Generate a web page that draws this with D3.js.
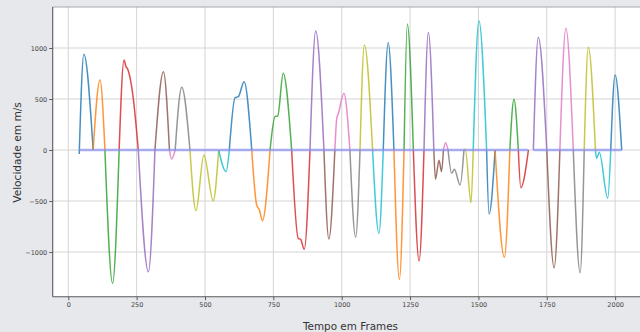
<!DOCTYPE html>
<html>
<head>
<meta charset="utf-8">
<script src="https://cdn.jsdelivr.net/npm/d3@7"></script>
<style>
  html, body { margin: 0; padding: 0; background: #e7e8ec; }
  svg { display: block; font-family: "DejaVu Sans", sans-serif; }
</style>
</head>
<body>
<svg id="chart" width="640" height="332"></svg>
<script>
// tick values
const xTicks = [0, 250, 500, 750, 1000, 1250, 1500, 1750, 2000]
const yTicks = [-1000, -500, 0, 500, 1000]

// each segment is one movement: [frame, velocity]
const segments = [
  [[40, -40], [57, 938], [91, 0]],
  [[91, 0], [116, 686], [134, 0]],
  [[134, 0], [162, -1307], [186, 0]],
  [[186, 0], [204, 882], [211, 817], [216, 800], [230, 650], [238, 500], [256, 0]],
  [[256, 0], [293, -1193], [317, 0]],
  [[317, 0], [348, 768], [370, 0]],
  [[370, 0], [378, -88], [391, 0]],
  [[391, 0], [415, 615], [445, 0]],
  [[445, 0], [467, -595], [496, -49], [530, -497], [550, 0]],
  [[550, 0], [577, -212], [589, 0]],
  [[589, 0], [610, 513], [622, 523], [643, 670], [671, 0]],
  [[671, 0], [689, -539], [699, -588], [710, -693], [738, 0]],
  [[738, 0], [756, 327], [766, 333], [786, 752], [817, 0]],
  [[817, 0], [841, -866], [850, -876], [863, -974], [884, 0]],
  [[884, 0], [905, 1167], [935, 0]],
  [[935, 0], [953, -873], [975, 0]],
  [[975, 0], [982, 311], [988, 360], [1008, 556], [1030, 0]],
  [[1030, 0], [1051, -856], [1067, 0]],
  [[1067, 0], [1083, 1029], [1113, 0]],
  [[1113, 0], [1136, -817], [1152, 0]],
  [[1152, 0], [1170, 1052], [1191, 0]],
  [[1191, 0], [1211, -1268], [1228, 0]],
  [[1228, 0], [1240, 1235], [1262, 0]],
  [[1262, 0], [1283, -1088], [1301, 0]],
  [[1301, 0], [1317, 1153], [1337, 0]],
  [[1337, 0], [1343, -287], [1356, -100], [1365, -213], [1372, 0]],
  [[1372, 0], [1380, 72], [1389, 0]],
  [[1389, 0], [1402, -228], [1412, -189], [1433, -343], [1447, 0]],
  [[1447, 0], [1452, 8], [1473, -516], [1481, 0]],
  [[1481, 0], [1502, 1268], [1530, 0]],
  [[1530, 0], [1539, -627], [1561, 0]],
  [[1561, 0], [1595, -1052], [1615, 0]],
  [[1615, 0], [1630, 497], [1646, 0]],
  [[1646, 0], [1655, -370], [1683, 0]],
  [[1701, 0], [1719, 1105], [1750, 0]],
  [[1750, 0], [1777, -1154], [1798, 0]],
  [[1798, 0], [1820, 1193], [1847, 0]],
  [[1847, 0], [1872, -1203], [1887, 0]],
  [[1887, 0], [1902, 1007], [1928, 0]],
  [[1928, 0], [1932, -82], [1942, -23], [1973, -474], [1984, 0]],
  [[1984, 0], [2000, 735], [2024, 0]]
]

// stretches where the resting (zero) line is drawn
const zeroSpans = [[40, 1683], [1701, 2024]]

const svg = d3.select('#chart')
const W = 640, H = 332
const plotLeft = 52.7, plotTop = 7, plotBottom = 296.7, plotRight = 649.3

const x = d3.scaleLinear().domain([-57, 2125]).range([plotLeft, plotRight])
const y = d3.scaleLinear().domain([-1438, 1402]).range([plotBottom, plotTop])
const color = d3.scaleOrdinal(d3.schemeCategory10)

// plot area
svg.append('rect')
  .attr('x', plotLeft).attr('y', plotTop)
  .attr('width', plotRight - plotLeft).attr('height', plotBottom - plotTop)
  .attr('fill', '#fff')

// grid
const grid = svg.append('g')
grid.selectAll('.gx').data(xTicks).enter().append('line')
  .attr('x1', d => x(d)).attr('x2', d => x(d))
  .attr('y1', plotTop).attr('y2', plotBottom)
  .attr('stroke', '#d4d4d4').attr('stroke-width', 1)
grid.selectAll('.gy').data(yTicks).enter().append('line')
  .attr('x1', plotLeft).attr('x2', plotRight)
  .attr('y1', d => y(d)).attr('y2', d => y(d))
  .attr('stroke', '#d4d4d4').attr('stroke-width', 1)

// segments
const line = d3.line()
  .x(d => x(d[0]))
  .y(d => y(d[1]))
  .curve(d3.curveMonotoneX)

svg.append('g').selectAll('path').data(segments).enter().append('path')
  .attr('d', d => line(d))
  .attr('fill', 'none')
  .attr('stroke', (_, i) => color(i % 10))
  .attr('stroke-opacity', 0.82)
  .attr('stroke-width', 1.5)
  .attr('stroke-linejoin', 'round')

// zero line
svg.append('g').selectAll('line').data(zeroSpans).enter().append('line')
  .attr('x1', d => x(d[0])).attr('x2', d => x(d[1]))
  .attr('y1', y(0)).attr('y2', y(0))
  .attr('stroke', '#8a8ff0').attr('stroke-opacity', 0.7)
  .attr('stroke-width', 2.4)

// frame
svg.append('line')
  .attr('x1', plotLeft).attr('x2', W).attr('y1', plotTop).attr('y2', plotTop)
  .attr('stroke', '#a9a9a9').attr('stroke-width', 1)

const fmt = d => (d < 0 ? '\u2212' + Math.abs(d) : String(d))

const xAxis = svg.append('g')
  .attr('transform', `translate(0,${plotBottom})`)
  .call(d3.axisBottom(x).tickValues(xTicks).tickFormat(fmt).tickSize(3.5).tickPadding(2))
const yAxis = svg.append('g')
  .attr('transform', `translate(${plotLeft},0)`)
  .call(d3.axisLeft(y).tickValues(yTicks).tickFormat(fmt).tickSize(3.5).tickPadding(2))

;[xAxis, yAxis].forEach(a => {
  a.select('.domain').attr('stroke', '#5a5a5a').attr('stroke-width', 1.1)
  a.selectAll('.tick line').attr('stroke', '#5a5a5a')
  a.selectAll('.tick text')
    .attr('fill', '#444')
    .style('font-size', '6.5px')
    .style('font-family', '"DejaVu Sans", sans-serif')
})
// the frame runs off the right edge
xAxis.select('.domain').attr('d', `M${plotLeft},0H${W}`)
yAxis.select('.domain').attr('d', `M0,${plotTop}V${plotBottom}`)

// axis titles
svg.append('text')
  .attr('x', 350.5).attr('y', 329.5)
  .attr('text-anchor', 'middle')
  .attr('fill', '#333')
  .style('font-size', '10.4px')
  .text('Tempo em Frames')

svg.append('text')
  .attr('transform', 'translate(20.5,152.5) rotate(-90)')
  .attr('text-anchor', 'middle')
  .attr('fill', '#333')
  .style('font-size', '10.6px')
  .text('Velocidade em m/s')
</script>
</body>
</html>
